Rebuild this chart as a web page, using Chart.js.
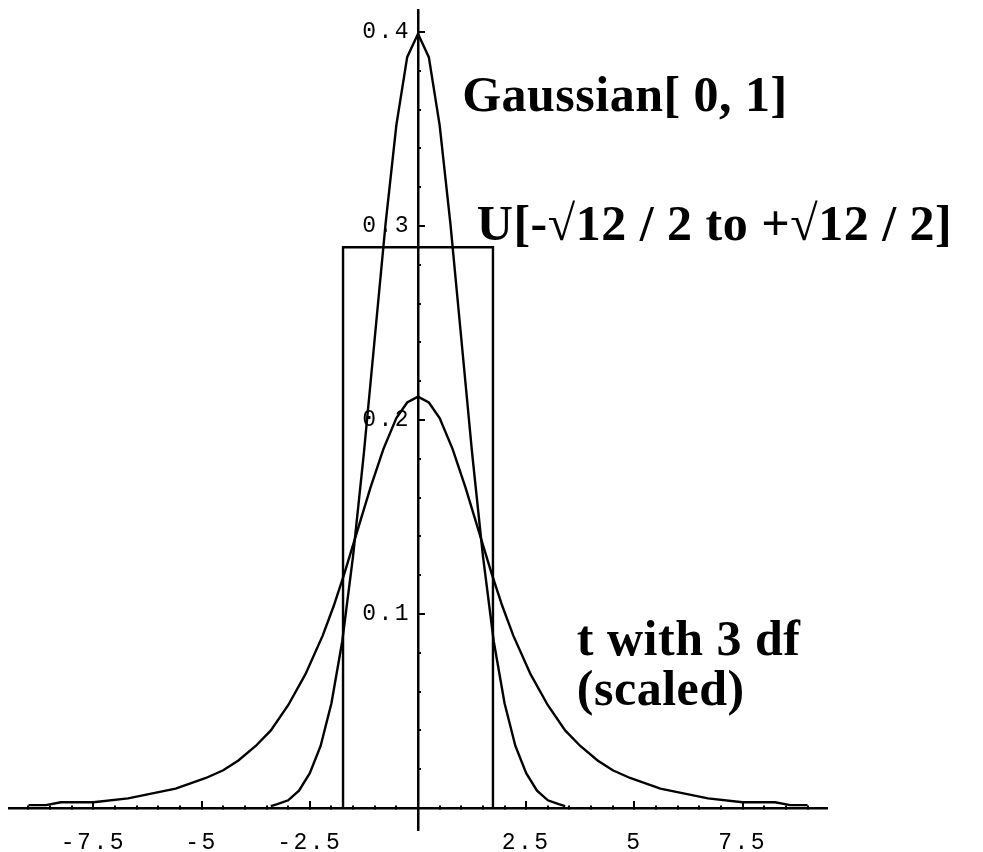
<!DOCTYPE html>
<html>
<head>
<meta charset="utf-8">
<script src="https://cdn.jsdelivr.net/npm/chart.js@4.4.1/dist/chart.umd.min.js"></script>
<style>
  html, body { margin: 0; padding: 0; background: #fff; }
  #wrap { width: 983px; height: 852px; }
</style>
</head>
<body>
<div id="wrap"><canvas id="chart" width="983" height="852"></canvas></div>
<script>
// Gaussian[0, 1]
const gaussX = [-3.4, -3.25, -3, -2.75, -2.5, -2.25, -2, -1.75, -1.5, -1.25, -1, -0.75, -0.5, -0.25, 0,
                0.25, 0.5, 0.75, 1, 1.25, 1.5, 1.75, 2, 2.25, 2.5, 2.75, 3, 3.25, 3.4];
const gaussY = [0.001, 0.002, 0.004, 0.009, 0.018, 0.032, 0.054, 0.086, 0.130, 0.183, 0.242, 0.301, 0.352, 0.387, 0.399,
                0.387, 0.352, 0.301, 0.242, 0.183, 0.130, 0.086, 0.054, 0.032, 0.018, 0.009, 0.004, 0.002, 0.001];

// uniform on -sqrt(12)/2 .. +sqrt(12)/2
const unifX = [-1.732, -1.732, 1.732, 1.732];
const unifY = [0, 0.289, 0.289, 0];

// t with 3 df (scaled)
const tX = [-9, -8.6, -8.25, -7.5, -6.7, -5.6, -4.9, -4.5, -4.15, -3.75, -3.4, -3, -2.6, -2.2, -1.95, -1.7, -1.4, -1.1, -0.8, -0.5, -0.25, 0,
            0.25, 0.5, 0.8, 1.1, 1.4, 1.7, 1.95, 2.2, 2.6, 3, 3.4, 3.75, 4.15, 4.5, 4.9, 5.6, 6.7, 7.5, 8.25, 8.6, 9];
const tY = [0.0015, 0.0015, 0.003, 0.003, 0.005, 0.010, 0.0155, 0.0195, 0.0245, 0.032, 0.040, 0.053, 0.069, 0.089, 0.104, 0.121, 0.143, 0.165, 0.185, 0.201, 0.209, 0.212,
            0.209, 0.201, 0.185, 0.165, 0.143, 0.121, 0.104, 0.089, 0.069, 0.053, 0.040, 0.032, 0.0245, 0.0195, 0.0155, 0.010, 0.005, 0.003, 0.003, 0.0015, 0.0015];

const xTickValues = [-7.5, -5, -2.5, 2.5, 5, 7.5];
const xTickLabels = ['-7.5', '-5', '-2.5', '2.5', '5', '7.5'];
const yTickValues = [0.1, 0.2, 0.3, 0.4];
const yTickLabels = ['0.1', '0.2', '0.3', '0.4'];

const noteText = ['Gaussian[ 0, 1]', 'U[-\u221A12 / 2 to +\u221A12 / 2]', 't with 3 df', '(scaled)'];

function pts(xs, ys) {
    return xs.map((x, i) => ({x: x, y: ys[i]}));
}

const tickFont = {family: '"Liberation Mono", monospace', size: 23};

// wide spacing of the Courier tick labels
const spacing = {
    id: 'spacing',
    beforeDraw(chart) { chart.ctx.letterSpacing = '2.5px'; }
};

const notes = {
    id: 'notes',
    afterDraw(chart) {
        const ctx = chart.ctx;
        const sx = chart.scales.x, sy = chart.scales.y;
        const anchors = [[1.02, 0.359], [1.36, 0.293], [3.67, 0.079], [3.67, 0.053]];
        ctx.save();
        ctx.letterSpacing = '0.5px';
        ctx.font = 'bold 50px "Liberation Serif", serif';
        ctx.fillStyle = '#000';
        ctx.textAlign = 'left';
        ctx.textBaseline = 'alphabetic';
        noteText.forEach((t, i) => {
            ctx.fillText(t, sx.getPixelForValue(anchors[i][0]), sy.getPixelForValue(anchors[i][1]));
        });
        ctx.restore();
    }
};

const line = {showLine: true, pointRadius: 0, borderColor: '#000', borderWidth: 2.4, tension: 0, fill: false};

const xMin = -9.45, xMax = 9.45, yMin = -0.0113, yMax = 0.4113;

const ctx = document.getElementById('chart').getContext('2d');
new Chart(ctx, {
    type: 'scatter',
    data: {
        datasets: [
            Object.assign({label: 'Gaussian', data: pts(gaussX, gaussY)}, line),
            Object.assign({label: 'Uniform', data: pts(unifX, unifY)}, line),
            Object.assign({label: 't3', data: pts(tX, tY)}, line)
        ]
    },
    options: {
        responsive: false,
        devicePixelRatio: 1,
        animation: false,
        layout: {autoPadding: false, padding: {left: 9, right: 156, top: 10, bottom: 22}},
        plugins: {legend: {display: false}, tooltip: {enabled: false}},
        scales: {
            x: {
                type: 'linear', min: xMin, max: xMax, position: {y: 0},
                grid: {drawOnChartArea: false, tickLength: -4, lineWidth: 2, color: '#000'},
                border: {display: true, color: '#000', width: 2.5},
                ticks: {display: false, stepSize: 0.5, includeBounds: false, autoSkip: false}
            },
            xMajor: {
                type: 'linear', axis: 'x', min: xMin, max: xMax, position: {y: 0},
                grid: {drawOnChartArea: false, tickLength: -7, lineWidth: 2, color: '#000'},
                border: {display: false},
                afterBuildTicks: s => { s.ticks = xTickValues.map(v => ({value: v})); },
                ticks: {callback: (v, i) => xTickLabels[i], padding: 28, font: tickFont, color: '#000', autoSkip: false, maxRotation: 0}
            },
            y: {
                type: 'linear', min: yMin, max: yMax, position: {x: 0},
                grid: {drawOnChartArea: false, tickLength: -4, lineWidth: 2, color: '#000'},
                border: {display: true, color: '#000', width: 2.5},
                ticks: {display: false, stepSize: 0.02, includeBounds: false, autoSkip: false, padding: 0}
            },
            yMajor: {
                type: 'linear', axis: 'y', min: yMin, max: yMax, position: {x: 0},
                grid: {drawOnChartArea: false, tickLength: -7, lineWidth: 2, color: '#000'},
                border: {display: false},
                afterBuildTicks: s => { s.ticks = yTickValues.map(v => ({value: v})); },
                ticks: {display: false, autoSkip: false, padding: 0}
            },
            yLabels: {
                type: 'linear', axis: 'y', min: yMin, max: yMax, position: {x: -0.16},
                grid: {display: false},
                border: {display: false},
                afterBuildTicks: s => { s.ticks = yTickValues.map(v => ({value: v})); },
                ticks: {callback: (v, i) => yTickLabels[i], font: Object.assign({lineHeight: 0.8}, tickFont),
                        padding: 0, color: '#000', autoSkip: false}
            }
        }
    },
    plugins: [spacing, notes]
});
</script>
</body>
</html>
